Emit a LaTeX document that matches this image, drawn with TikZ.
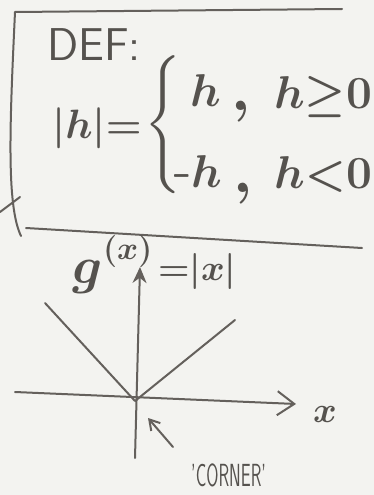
\RequirePackage{fix-cm}
\documentclass[tikz,border=0pt]{standalone}
\usepackage{amsmath, amssymb}
\usepackage{tikz}
\usetikzlibrary{positioning, arrows.meta}
\definecolor{paper}{RGB}{243,243,240}
\definecolor{pencil}{RGB}{100,96,92}
\newcommand{\bigsize}{\fontsize{46}{46}\selectfont\boldmath}
\newcommand{\midsize}{\fontsize{36}{36}\selectfont\boldmath}

\begin{document}
\begin{tikzpicture}[x=1pt, y=-1pt,
  pencil/.style={draw=pencil, line width=2pt, line cap=round, line join=round},
  hand/.style={text=pencil!85!black, inner sep=0pt},
]
  \fill[paper] (0,0) rectangle (374,495);
  \useasboundingbox (0,0) rectangle (374,495);

  % Box round the definition
  \coordinate (tl) at (15,12);
  \coordinate (tr) at (342,9);
  \coordinate (bl) at (21,236);
  \coordinate (bs) at (26,228);
  \coordinate (br) at (362,248);
  \draw[pencil] (tr) -- (tl) .. controls (10,120) and (6,205) .. (bl);
  \draw[pencil] (bs) -- (br);
  \coordinate (ta) at (0,212);
  \coordinate (tb) at (20,197);
  \draw[pencil] (ta) -- (tb);

  \node[hand, anchor=base west, font=\sffamily\bigsize] (def) at (47,60) {DEF:};
  \node[hand, anchor=base west, font=\fontsize{41}{41}\selectfont\boldmath] (lhs) at (52,138) {$|h|{=}$};
  \node[hand, font=\bigsize] (brace) at (164,125) {$\left\{\vrule height 52pt depth 52pt width 0pt\right.$};
  % first case
  \node[hand, anchor=base east, font=\bigsize] (va) at (221,106) {$h$};
  \node[hand, anchor=base, font=\fontsize{60}{60}\selectfont\boldmath] (ca) at (241,110) {$,$};
  \node[hand, anchor=base west, font=\bigsize] (ka) at (274,108) {$h{\geq}0$};
  % second case
  \node[hand, anchor=base east, font=\bigsize] (vb) at (222,187) {$\scalebox{0.45}[1]{$-$}h$};
  \node[hand, anchor=base, font=\fontsize{60}{60}\selectfont\boldmath] (cb) at (243,192) {$,$};
  \node[hand, anchor=base west, font=\bigsize] (kb) at (274,188) {$h{<}0$};

  % The graph of g
  \coordinate (O) at (135,401);
  \coordinate (xl) at (15,392);
  \coordinate (xr) at (296,404);
  \coordinate (yb) at (135,458);
  \coordinate (yt) at (140,267);
  \coordinate (vl) at (45,303);
  \coordinate (vr) at (235,320);
  \draw[pencil] (vl) -- (O) -- (vr);
  \draw[pencil, -{Straight Barb[length=17pt, width=24pt]}] (xl) -- (xr);
  \draw[pencil, -{Stealth[length=16pt, width=14pt]}] (yb) -- (yt);
  \node[hand, font=\midsize] (xlab) at (325,414) {$x$};
  \node[hand, anchor=base west, font=\fontsize{52}{52}\selectfont\boldmath] (gname) at (72,283) {$g$};
  \node[hand, anchor=base west, font=\fontsize{32}{32}\selectfont\boldmath] (garg) at (103,259) {$(x)$};
  \node[hand, anchor=base west, font=\midsize] (gval) at (158,280) {${=}|x|$};

  % pointer to the corner
  \coordinate (cs) at (173,447);
  \coordinate (ce) at (148,418);
  \draw[pencil, -{Straight Barb[length=10pt, width=12pt]}] (cs) -- (ce);
  \node[hand, font=\sffamily\fontsize{32}{32}\selectfont, anchor=base west] (corner) at (191,486) {\scalebox{0.55}[1]{'CORNER'}};
\end{tikzpicture}
\end{document}
